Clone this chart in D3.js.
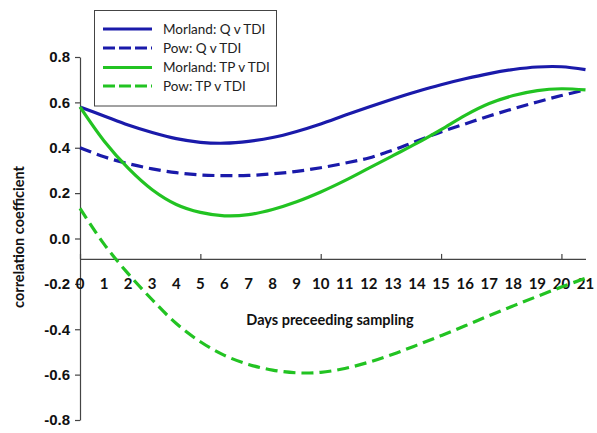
<!DOCTYPE html>
<html>
<head>
<meta charset="utf-8">
<script src="https://cdn.jsdelivr.net/npm/d3@7"></script>
<style>
  html, body { margin: 0; padding: 0; background: #fff; }
  svg { display: block; font-family: Lato, "Open Sans", sans-serif; }
</style>
</head>
<body>
<svg id="chart" width="597" height="433"></svg>
<script>
const days = d3.range(0, 22);
const xTickLabels = days.map(String);
const yTickValues = [-0.8, -0.6, -0.4, -0.2, 0.0, 0.2, 0.4, 0.6, 0.8];

const morlandQ  = [0.58, 0.54, 0.50, 0.467, 0.44, 0.424, 0.42, 0.428, 0.445, 0.472, 0.505, 0.543, 0.58, 0.615, 0.648, 0.678, 0.704, 0.727, 0.745, 0.756, 0.757, 0.744];
const powQ      = [0.40, 0.36, 0.33, 0.307, 0.29, 0.28, 0.277, 0.278, 0.285, 0.296, 0.312, 0.332, 0.355, 0.39, 0.43, 0.47, 0.505, 0.54, 0.572, 0.602, 0.63, 0.655];
const morlandTP = [0.58, 0.43, 0.31, 0.215, 0.15, 0.115, 0.10, 0.105, 0.128, 0.162, 0.205, 0.255, 0.31, 0.365, 0.42, 0.48, 0.543, 0.595, 0.63, 0.652, 0.66, 0.655];
const powTP     = [0.133, -0.025, -0.155, -0.27, -0.375, -0.455, -0.515, -0.555, -0.58, -0.592, -0.59, -0.573, -0.545, -0.51, -0.47, -0.428, -0.385, -0.34, -0.297, -0.255, -0.214, -0.175];

const seriesNames = ["Morland: Q v TDI", "Pow: Q v TDI", "Morland: TP v TDI", "Pow: TP v TDI"];
const seriesColors = ["#1a1aaa", "#1a1aaa", "#22c322", "#22c322"];
const seriesDashed = [false, true, false, true];
const seriesValues = [morlandQ, powQ, morlandTP, powTP];

const xAxisCross = -0.09;

const svg = d3.select("#chart");
const x = d3.scaleLinear().domain([0, 21]).range([80, 585.5]);
const y = d3.scaleLinear().domain([-0.8, 0.8]).range([420, 57]);

const axisColor = "#444";

// Y axis
const yAxis = svg.append("g").attr("transform", `translate(${x(0)},0)`)
  .call(d3.axisLeft(y).tickValues(yTickValues).tickFormat(d3.format(".1f")).tickSize(5).tickSizeOuter(0));
yAxis.select(".domain").attr("stroke", axisColor).attr("stroke-width", 1.2);
yAxis.selectAll(".tick line").attr("stroke", axisColor).attr("stroke-width", 1.2);
yAxis.selectAll(".tick text")
  .text(d => d === 0 ? "0.0" : d3.format(".1f")(d).replace("−", "-"))
  .attr("x", -10).attr("fill", "#111").style("font-size", "15px").style("font-weight", "bold");

// X axis line at crossing value
const xAxisG = svg.append("g").attr("transform", `translate(0,${y(xAxisCross)})`);
xAxisG.call(d3.axisTop(x).tickValues([0, 5, 10, 15, 20]).tickFormat("").tickSize(5).tickSizeOuter(0));
xAxisG.select(".domain").attr("stroke", axisColor).attr("stroke-width", 1.2);
xAxisG.selectAll(".tick line").attr("stroke", axisColor).attr("stroke-width", 1.2);

// X tick labels (all integers)
svg.append("g").selectAll("text").data(days).join("text")
  .attr("x", d => x(d)).attr("y", y(xAxisCross) + 30)
  .attr("text-anchor", "middle")
  .attr("fill", "#111").style("font-size", "15px").style("font-weight", "bold")
  .text((d, i) => xTickLabels[i]);

// Axis titles
svg.append("text").attr("x", 330).attr("y", 325).attr("text-anchor", "middle")
  .attr("fill", "#111").style("font-size", "14.5px").style("font-weight", "bold")
  .text("Days preceeding sampling");
svg.append("text").attr("transform", "translate(24,237) rotate(-90)").attr("text-anchor", "middle")
  .attr("fill", "#111").style("font-size", "14.5px").style("font-weight", "bold")
  .text("correlation coefficient");

// Lines
const line = d3.line().x((d, i) => x(days[i])).y(d => y(d)).curve(d3.curveCatmullRom.alpha(0.5));
svg.append("g").selectAll("path").data(seriesValues).join("path")
  .attr("d", d => line(d))
  .attr("fill", "none")
  .attr("stroke", (d, i) => seriesColors[i])
  .attr("stroke-width", 3.2)
  .attr("stroke-dasharray", (d, i) => seriesDashed[i] ? "12,6" : null);

// Legend
const lg = svg.append("g");
lg.append("rect").attr("x", 94.5).attr("y", 10.5).attr("width", 182).attr("height", 95.5)
  .attr("fill", "#fff").attr("stroke", "#444").attr("stroke-width", 1);
const legendY = [29, 48, 67.5, 86];
seriesNames.forEach((name, i) => {
  lg.append("line").attr("x1", 103).attr("x2", 152).attr("y1", legendY[i]).attr("y2", legendY[i])
    .attr("stroke", seriesColors[i]).attr("stroke-width", 3.2)
    .attr("stroke-dasharray", seriesDashed[i] ? "12,4" : null);
  lg.append("text").attr("x", 163).attr("y", legendY[i]).attr("dy", "0.35em")
    .attr("fill", "#222").style("font-size", "13.5px").text(name);
});
</script>
</body>
</html>
